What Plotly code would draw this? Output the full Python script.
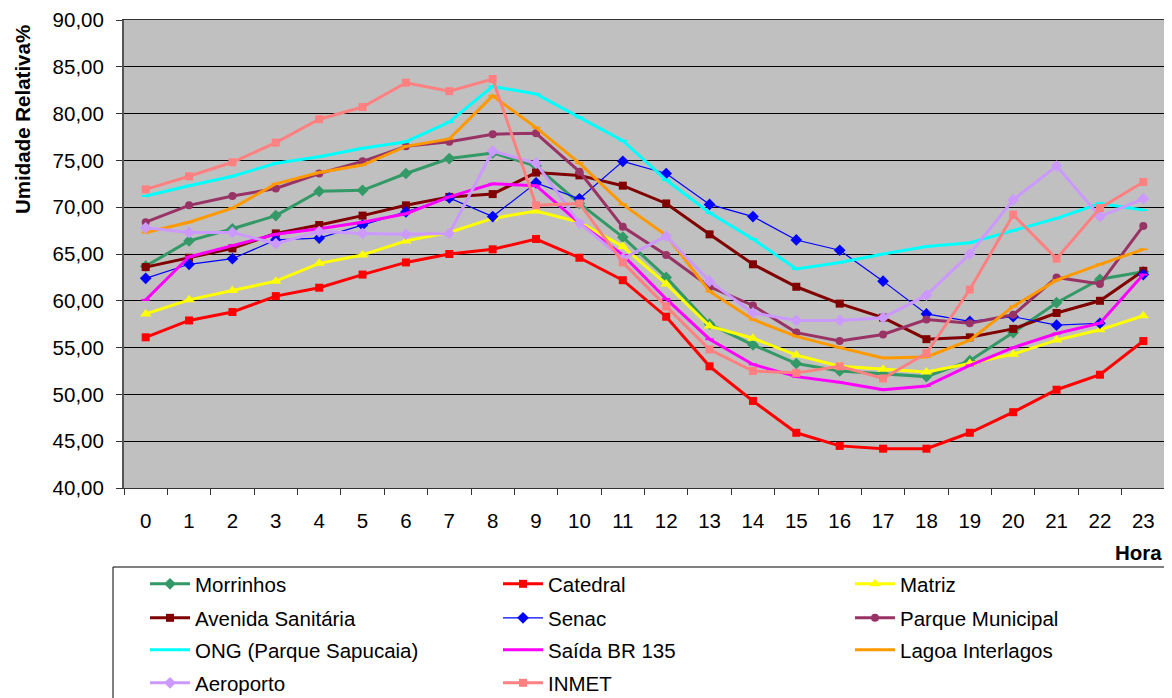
import plotly.graph_objects as go

hours = list(range(24))
hour_labels = [str(h) for h in hours]

morrinhos = [63.7, 66.4, 67.7, 69.1, 71.7, 71.8, 73.6, 75.2, 75.8, 74.4, 70.4, 66.8, 62.5, 57.5, 55.3, 53.3, 52.5, 52.2, 51.9, 53.6, 56.6, 59.8, 62.3, 63.1]
catedral = [56.1, 57.9, 58.8, 60.5, 61.4, 62.8, 64.1, 65.0, 65.5, 66.6, 64.6, 62.2, 58.3, 53.0, 49.3, 45.9, 44.5, 44.2, 44.2, 45.9, 48.1, 50.5, 52.1, 55.7]
matriz = [58.6, 60.1, 61.1, 62.1, 64.0, 64.9, 66.4, 67.3, 68.8, 69.6, 68.4, 65.8, 61.8, 57.3, 56.0, 54.2, 53.0, 52.7, 52.4, 53.3, 54.3, 55.8, 56.9, 58.4]
avenida = [63.6, 64.6, 65.6, 67.2, 68.1, 69.1, 70.2, 71.1, 71.4, 73.7, 73.4, 72.3, 70.4, 67.1, 63.9, 61.5, 59.7, 58.2, 55.9, 56.1, 57.0, 58.7, 60.0, 63.2]
senac = [62.4, 63.9, 64.5, 66.5, 66.7, 68.1, 69.5, 71.0, 69.0, 72.6, 70.9, 74.9, 73.6, 70.3, 69.0, 66.5, 65.4, 62.1, 58.6, 57.8, 58.3, 57.4, 57.6, 62.8]
parque = [68.4, 70.2, 71.2, 72.0, 73.6, 74.9, 76.5, 77.0, 77.8, 77.9, 73.8, 67.9, 64.9, 61.5, 59.5, 56.6, 55.7, 56.4, 58.0, 57.6, 58.5, 62.5, 61.8, 68.0]
ong = [71.2, 72.3, 73.3, 74.7, 75.4, 76.3, 77.0, 79.1, 82.9, 82.1, 79.6, 77.1, 72.9, 69.4, 66.6, 63.4, 64.1, 65.0, 65.8, 66.2, 67.5, 68.8, 70.4, 69.7]
saida = [60.1, 64.7, 65.9, 67.1, 67.7, 68.4, 69.3, 71.1, 72.5, 72.3, 68.3, 64.9, 60.2, 55.9, 53.2, 51.9, 51.3, 50.5, 50.9, 53.1, 55.0, 56.5, 57.6, 62.8]
lagoa = [67.3, 68.4, 69.9, 72.5, 73.7, 74.5, 76.5, 77.3, 81.9, 78.5, 74.7, 70.3, 67.0, 61.0, 58.0, 56.2, 55.0, 53.9, 54.0, 55.8, 59.4, 62.2, 63.9, 65.5]
aeroporto = [67.8, 67.3, 67.3, 66.1, 67.4, 67.2, 67.1, 67.2, 76.0, 74.7, 68.3, 64.5, 66.9, 62.1, 58.7, 57.9, 57.9, 58.2, 60.6, 65.0, 70.8, 74.4, 69.0, 70.9]
inmet = [71.9, 73.3, 74.8, 76.9, 79.4, 80.7, 83.3, 82.4, 83.7, 70.2, 70.4, 64.1, 59.4, 54.8, 52.5, 52.3, 53.0, 51.7, 54.4, 61.2, 69.2, 64.5, 69.9, 72.7]

# name, values, colour, marker, marker size, line width
series = [
    ("Morrinhos", morrinhos, "#339966", "diamond", 9, 3),
    ("Catedral", catedral, "#FF0000", "square", 8, 3),
    ("Matriz", matriz, "#FFFF00", "triangle-up", 10, 3),
    ("Avenida Sanitária", avenida, "#800000", "square", 8, 3),
    ("Senac", senac, "#0000FF", "diamond", 9, 1.2),
    ("Parque Municipal", parque, "#993366", "circle", 8, 3),
    ("ONG (Parque Sapucaia)", ong, "#00FFFF", "line-ew", 6, 3),
    ("Saída BR 135", saida, "#FF00FF", "line-ew", 6, 3),
    ("Lagoa Interlagos", lagoa, "#FF9900", "line-ew", 6, 3),
    ("Aeroporto", aeroporto, "#CC99FF", "diamond", 9, 3),
    ("INMET", inmet, "#FF8080", "square", 8, 3),
]

FONT = "Liberation Sans, Arial, sans-serif"
FS = 20.5
OFF = 8  # page body margin
W, H = 1172 - OFF, 698 - OFF
# plot area in page pixels
PL, PR, PT, PB = 124, 1165, 20, 488
PW, PH = PR - PL, PB - PT


def px_x(x):
    return (x - PL) / PW


def px_y(y):
    return (PB - y) / PH


col_lines = [150, 503, 855]
row_centers = [584, 618, 650, 683]

fig = go.Figure()
legends = {}
for i, (name, vals, color, sym, size, lw) in enumerate(series):
    key = "legend" if i == 0 else f"legend{i + 1}"
    fig.add_trace(go.Scatter(
        x=hour_labels, y=vals, name=name, mode="lines+markers",
        line=dict(color=color, width=lw), legend=key,
        marker=dict(symbol=sym, size=size, color=color,
                    line=dict(color=color, width=2 if sym == "line-ew" else 0)),
    ))
    r, c = divmod(i, 3)
    legends[key] = dict(
        orientation="v", xanchor="left", yanchor="top",
        x=px_x(col_lines[c] - 5), y=px_y(row_centers[r] - 20),
        borderwidth=0, bgcolor="rgba(0,0,0,0)",
        font=dict(family=FONT, size=FS, color="black"),
        itemwidth=40,
    )

fig.update_layout(
    width=W, height=H,
    margin=dict(l=PL - OFF, r=W - (PR - OFF), t=PT - OFF, b=H - (PB - OFF),
                autoexpand=False),
    paper_bgcolor="white", plot_bgcolor="#C0C0C0",
    separators=",.",
    font=dict(family=FONT, size=FS, color="black"),
    showlegend=True,
    **legends,
    xaxis=dict(
        type="category", showgrid=False, tickson="boundaries",
        ticks="outside", ticklen=6, tickcolor="#333", tickwidth=1,
        showline=True, linecolor="#333", linewidth=1, mirror=True,
        tickfont=dict(family=FONT, size=FS),
        ticklabelposition="outside", ticklabelstandoff=14,
        range=[-0.5, 23.5], automargin=False,
    ),
    yaxis=dict(
        range=[40, 90], dtick=5, tick0=40, tickformat=".2f",
        showgrid=True, gridcolor="black", gridwidth=1,
        ticks="outside", ticklen=6, tickcolor="#333",
        showline=True, linecolor="#555", linewidth=2, mirror=True,
        tickfont=dict(family=FONT, size=FS), zeroline=False,
        ticklabelposition="outside", ticklabelstandoff=8, automargin=False,
    ),
    shapes=[
        dict(type="rect", xref="paper", yref="paper",
             x0=px_x(113), x1=px_x(1165), y0=px_y(567), y1=px_y(720),
             line=dict(color="black", width=1), fillcolor="rgba(0,0,0,0)",
             layer="below"),
    ],
    annotations=[
        dict(text="<b>Hora</b>", xref="paper", yref="paper",
             x=px_x(1164), y=px_y(552),
             xanchor="right", yanchor="middle", showarrow=False,
             font=dict(family=FONT, size=FS)),
        dict(text="<b>Umidade Relativa%</b>", xref="paper", yref="paper",
             x=px_x(22), y=px_y(120), textangle=-90,
             xanchor="center", yanchor="middle", showarrow=False,
             font=dict(family=FONT, size=FS)),
    ],
)

fig.write_html("out.html")
